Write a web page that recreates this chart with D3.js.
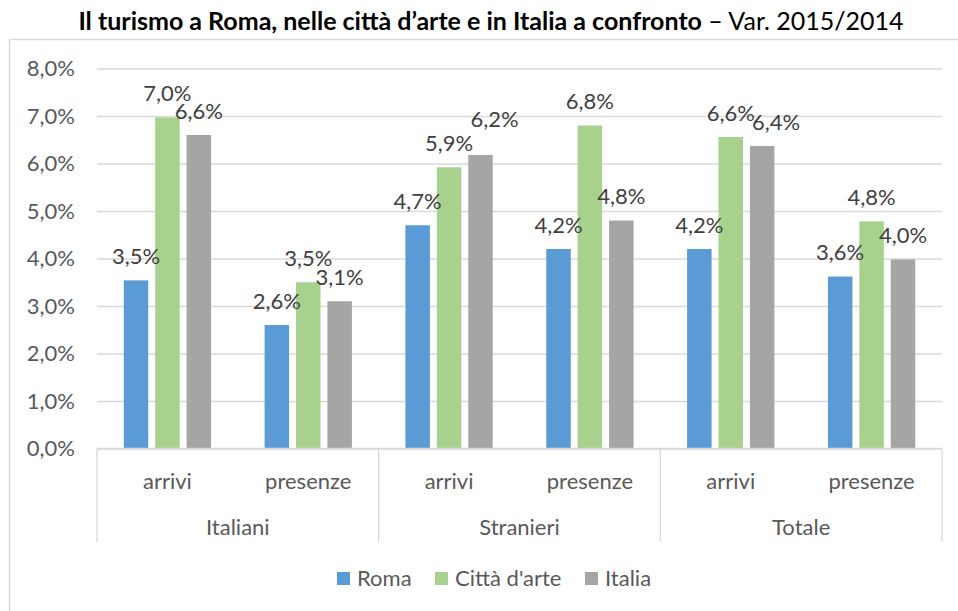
<!DOCTYPE html>
<html>
<head>
<meta charset="utf-8">
<script src="https://cdn.jsdelivr.net/npm/d3@7"></script>
<style>
  body { margin: 0; background: #fff; }
  text { font-family: Lato, "Open Sans", sans-serif; }
</style>
</head>
<body>
<div id="chart"></div>
<script>
// data (Var. % 2015/2014)
const groups = ["Italiani", "Stranieri", "Totale"];
const measures = ["arrivi", "presenze"];
const series = ["Roma", "Città d'arte", "Italia"];
const roma      = [3.54, 2.6, 4.7, 4.2, 4.2, 3.62];
const cittaArte = [6.97, 3.5, 5.92, 6.8, 6.56, 4.78];
const italia    = [6.6, 3.1, 6.18, 4.8, 6.37, 3.98];
const yTicks = [0, 1, 2, 3, 4, 5, 6, 7, 8];
const colors = ["#5B9BD5", "#A9D18E", "#A5A5A5"];

const W = 958, H = 611;
const plot = {left: 97, right: 942, top: 68.5, bottom: 448.5};
const fs = "22px";

const cats = [];
groups.forEach(g => measures.forEach(m => cats.push(g + "|" + m)));
const data = cats.map((c, i) => ({
  key: c,
  values: [roma[i], cittaArte[i], italia[i]]
}));

const fmt = v => d3.format(".1f")(v).replace(".", ",") + "%";

const svg = d3.select("#chart")
  .append("svg")
  .attr("width", W)
  .attr("height", H);

// outer chart border (only top and left visible)
svg.append("rect")
  .attr("x", 9.5)
  .attr("y", 39.5)
  .attr("width", 980)
  .attr("height", 620)
  .attr("fill", "none")
  .attr("stroke", "#d9d9d9")
  .attr("stroke-width", 1.5);

// title
const title = svg.append("text")
  .attr("x", 491)
  .attr("y", 30)
  .attr("text-anchor", "middle")
  .style("font-size", "25px")
  .style("fill", "#000");
title.append("tspan").style("font-weight", "bold")
  .text("Il turismo a Roma, nelle città d\u2019arte e in Italia a confronto");
title.append("tspan").text(" \u2013 Var. 2015/2014");

// scales
const x = d3.scaleBand()
  .domain(cats)
  .range([plot.left, plot.right])
  .paddingInner(0.38)
  .paddingOuter(0.19);

const xSub = d3.scaleBand()
  .domain(series)
  .range([0, x.bandwidth()])
  .paddingInner(0.22);

const y = d3.scaleLinear()
  .domain([0, 8])
  .range([plot.bottom, plot.top]);

// gridlines + y labels
const yAxis = svg.append("g")
  .attr("transform", `translate(${plot.left},0)`)
  .call(d3.axisLeft(y)
    .tickValues(yTicks)
    .tickSizeInner(-(plot.right - plot.left))
    .tickSizeOuter(0)
    .tickPadding(22)
    .tickFormat(d => d3.format(".1f")(d).replace(".", ",") + "%"));
yAxis.select(".domain").remove();
yAxis.selectAll("line").attr("stroke", "#d9d9d9").attr("stroke-width", 1.3);
yAxis.selectAll("text")
  .style("font-size", fs)
  .style("fill", "#595959");

// bars
const catG = svg.append("g")
  .selectAll("g")
  .data(data)
  .join("g")
  .attr("transform", d => `translate(${x(d.key)},0)`);

catG.selectAll("rect")
  .data(d => d.values.map((v, i) => ({s: series[i], v: v, c: colors[i]})))
  .join("rect")
  .attr("x", d => xSub(d.s))
  .attr("y", d => y(d.v))
  .attr("width", xSub.bandwidth())
  .attr("height", d => y(0) - y(d.v))
  .attr("fill", d => d.c);

// data labels (two crowded ones nudged the way Excel placed them)
const nudge = (k, s) => {
  if (k === "Stranieri|arrivi" && s === "Italia") return [14, -12];
  if (k === "Totale|arrivi" && s === "Italia") return [14, 0];
  return [0, 0];
};
catG.selectAll("text")
  .data(d => d.values.map((v, i) => ({k: d.key, s: series[i], v: v})))
  .join("text")
  .attr("x", d => xSub(d.s) + xSub.bandwidth() / 2 + nudge(d.k, d.s)[0])
  .attr("y", d => y(d.v) - 24 + nudge(d.k, d.s)[1])
  .attr("dy", "0.35em")
  .attr("text-anchor", "middle")
  .style("font-size", fs)
  .style("fill", "#404040")
  .text(d => fmt(d.v));

// category axis (two levels)
const axisG = svg.append("g");
axisG.append("line")
  .attr("x1", plot.left).attr("x2", plot.right)
  .attr("y1", plot.bottom).attr("y2", plot.bottom)
  .attr("stroke", "#d9d9d9").attr("stroke-width", 1.3);

const groupW = (plot.right - plot.left) / groups.length;
d3.range(groups.length + 1).forEach(i => {
  axisG.append("line")
    .attr("x1", plot.left + i * groupW).attr("x2", plot.left + i * groupW)
    .attr("y1", plot.bottom).attr("y2", 542)
    .attr("stroke", "#d9d9d9").attr("stroke-width", 1.3);
});

axisG.selectAll(".measure")
  .data(cats)
  .join("text")
  .attr("class", "measure")
  .attr("x", d => x(d) + x.bandwidth() / 2)
  .attr("y", 481)
  .attr("dy", "0.35em")
  .attr("text-anchor", "middle")
  .style("font-size", fs)
  .style("fill", "#595959")
  .text(d => d.split("|")[1]);

axisG.selectAll(".group")
  .data(groups)
  .join("text")
  .attr("class", "group")
  .attr("x", (d, i) => plot.left + (i + 0.5) * groupW)
  .attr("y", 527)
  .attr("dy", "0.35em")
  .attr("text-anchor", "middle")
  .style("font-size", fs)
  .style("fill", "#595959")
  .text(d => d);

// legend
const legendX = [337, 435, 585];
const legend = svg.append("g")
  .selectAll("g")
  .data(series)
  .join("g")
  .attr("transform", (d, i) => `translate(${legendX[i]},572)`);
legend.append("rect")
  .attr("width", 13)
  .attr("height", 13)
  .attr("fill", (d, i) => colors[i]);
legend.append("text")
  .attr("x", 20)
  .attr("y", 6.5)
  .attr("dy", "0.35em")
  .style("font-size", fs)
  .style("fill", "#595959")
  .text(d => d);
</script>
</body>
</html>
